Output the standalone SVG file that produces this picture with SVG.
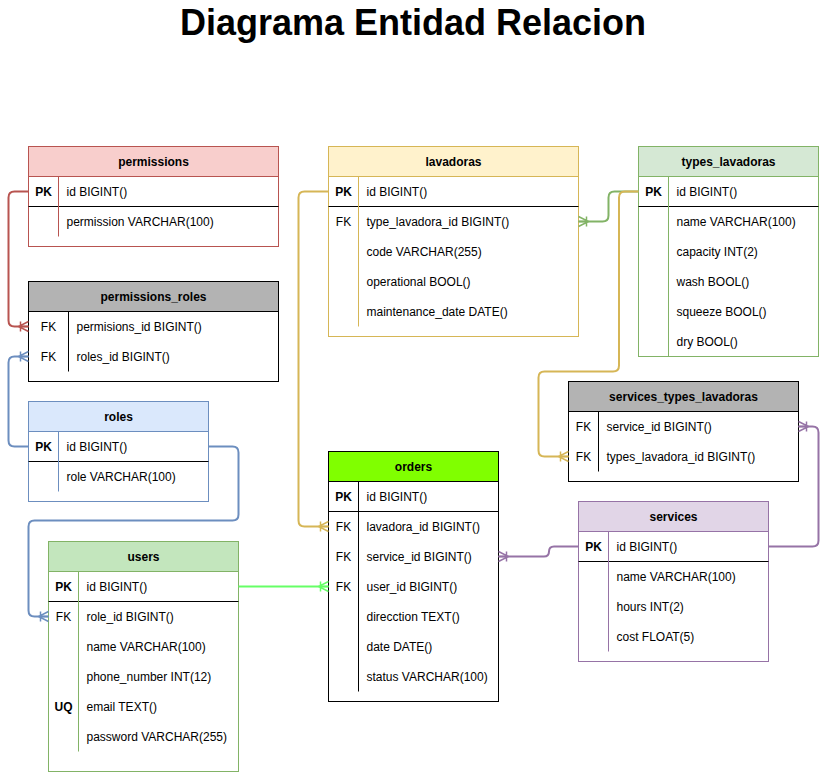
<svg xmlns="http://www.w3.org/2000/svg" width="827" height="772" viewBox="0 0 827 772">
<style>
text{font-family:"Liberation Sans",Arial,Helvetica,sans-serif;font-size:12px;fill:#000}
.title{font-size:36px;font-weight:bold;text-anchor:middle}
.hdr{font-weight:bold;text-anchor:middle}
.key{text-anchor:middle}
.kb{font-weight:bold}
.sep{stroke:#000;stroke-width:1}
.conn{fill:none;stroke-width:2}
.body{fill:#fff}
</style>
<defs>
<marker id="mRed" viewBox="-12 -7 14 14" markerWidth="14" markerHeight="14" refX="0" refY="0" orient="auto" markerUnits="userSpaceOnUse"><path d="M0,-5 L-10,0 L0,5 M0,0 H-10 M-8,-5 V5" fill="none" stroke="#b85450" stroke-width="1.5"/></marker>
<marker id="mBlue" viewBox="-12 -7 14 14" markerWidth="14" markerHeight="14" refX="0" refY="0" orient="auto" markerUnits="userSpaceOnUse"><path d="M0,-5 L-10,0 L0,5 M0,0 H-10 M-8,-5 V5" fill="none" stroke="#6c8ebf" stroke-width="1.5"/></marker>
<marker id="mLime" viewBox="-12 -7 14 14" markerWidth="14" markerHeight="14" refX="0" refY="0" orient="auto" markerUnits="userSpaceOnUse"><path d="M0,-5 L-10,0 L0,5 M0,0 H-10 M-8,-5 V5" fill="none" stroke="#66ff66" stroke-width="1.5"/></marker>
<marker id="mYel" viewBox="-12 -7 14 14" markerWidth="14" markerHeight="14" refX="0" refY="0" orient="auto" markerUnits="userSpaceOnUse"><path d="M0,-5 L-10,0 L0,5 M0,0 H-10 M-8,-5 V5" fill="none" stroke="#d6b656" stroke-width="1.5"/></marker>
<marker id="mGreen" viewBox="-12 -7 14 14" markerWidth="14" markerHeight="14" refX="0" refY="0" orient="auto" markerUnits="userSpaceOnUse"><path d="M0,-5 L-10,0 L0,5 M0,0 H-10 M-8,-5 V5" fill="none" stroke="#82b366" stroke-width="1.5"/></marker>
<marker id="mPurp" viewBox="-12 -7 14 14" markerWidth="14" markerHeight="14" refX="0" refY="0" orient="auto" markerUnits="userSpaceOnUse"><path d="M0,-5 L-10,0 L0,5 M0,0 H-10 M-8,-5 V5" fill="none" stroke="#9673a6" stroke-width="1.5"/></marker>
</defs>
<rect x="0" y="0" width="827" height="772" fill="#fff"/>
<text class="title" x="413" y="35">Diagrama Entidad Relacion</text>

<g id="permissions">
<rect class="body" x="28.5" y="146.5" width="250" height="100" stroke="#b85450"/>
<rect x="28.5" y="146.5" width="250" height="30" fill="#f8cecc" stroke="#b85450"/>
<line class="sep" x1="28.5" y1="206.5" x2="278.5" y2="206.5"/>
<line x1="58.5" y1="176.5" x2="58.5" y2="236.5" stroke="#b85450"/>
<text class="hdr" x="153.5" y="166">permissions</text>
<text class="key kb" x="43.5" y="196">PK</text><text x="66.5" y="196">id BIGINT()</text>
<text x="66.5" y="226">permission VARCHAR(100)</text>
</g>

<g id="permissions_roles">
<rect class="body" x="28.5" y="281.5" width="250" height="100" stroke="#000"/>
<rect x="28.5" y="281.5" width="250" height="30" fill="#b3b3b3" stroke="#000"/>
<line x1="68.5" y1="311.5" x2="68.5" y2="371.5" stroke="#000"/>
<text class="hdr" x="153.5" y="301">permissions_roles</text>
<text class="key" x="48.5" y="331">FK</text><text x="76.5" y="331">permisions_id BIGINT()</text>
<text class="key" x="48.5" y="361">FK</text><text x="76.5" y="361">roles_id BIGINT()</text>
</g>

<g id="roles">
<rect class="body" x="28.5" y="401.5" width="180" height="100" stroke="#6c8ebf"/>
<rect x="28.5" y="401.5" width="180" height="30" fill="#dae8fc" stroke="#6c8ebf"/>
<line class="sep" x1="28.5" y1="461.5" x2="208.5" y2="461.5"/>
<line x1="58.5" y1="431.5" x2="58.5" y2="491.5" stroke="#6c8ebf"/>
<text class="hdr" x="118.5" y="421">roles</text>
<text class="key kb" x="43.5" y="451">PK</text><text x="66.5" y="451">id BIGINT()</text>
<text x="66.5" y="481">role VARCHAR(100)</text>
</g>

<g id="users">
<rect class="body" x="48.5" y="541.5" width="190" height="230" stroke="#82b366"/>
<rect x="48.5" y="541.5" width="190" height="30" fill="#c3e6bd" stroke="#82b366"/>
<line class="sep" x1="48.5" y1="601.5" x2="238.5" y2="601.5"/>
<line x1="78.5" y1="571.5" x2="78.5" y2="751.5" stroke="#82b366"/>
<text class="hdr" x="143.5" y="561">users</text>
<text class="key kb" x="63.5" y="591">PK</text><text x="86.5" y="591">id BIGINT()</text>
<text class="key" x="63.5" y="621">FK</text><text x="86.5" y="621">role_id BIGINT()</text>
<text x="86.5" y="651">name VARCHAR(100)</text>
<text x="86.5" y="681">phone_number INT(12)</text>
<text class="key kb" x="63.5" y="711">UQ</text><text x="86.5" y="711">email TEXT()</text>
<text x="86.5" y="741">password VARCHAR(255)</text>
</g>

<g id="lavadoras">
<rect class="body" x="328.5" y="146.5" width="250" height="190" stroke="#d6b656"/>
<rect x="328.5" y="146.5" width="250" height="30" fill="#fff2cc" stroke="#d6b656"/>
<line class="sep" x1="328.5" y1="206.5" x2="578.5" y2="206.5"/>
<line x1="358.5" y1="176.5" x2="358.5" y2="326.5" stroke="#d6b656"/>
<text class="hdr" x="453.5" y="166">lavadoras</text>
<text class="key kb" x="343.5" y="196">PK</text><text x="366.5" y="196">id BIGINT()</text>
<text class="key" x="343.5" y="226">FK</text><text x="366.5" y="226">type_lavadora_id BIGINT()</text>
<text x="366.5" y="256">code VARCHAR(255)</text>
<text x="366.5" y="286">operational BOOL()</text>
<text x="366.5" y="316">maintenance_date DATE()</text>
</g>

<g id="types_lavadoras">
<rect class="body" x="638.5" y="146.5" width="180" height="210" stroke="#82b366"/>
<rect x="638.5" y="146.5" width="180" height="30" fill="#d5e8d4" stroke="#82b366"/>
<line class="sep" x1="638.5" y1="206.5" x2="818.5" y2="206.5"/>
<line x1="668.5" y1="176.5" x2="668.5" y2="356.5" stroke="#82b366"/>
<text class="hdr" x="728.5" y="166">types_lavadoras</text>
<text class="key kb" x="653.5" y="196">PK</text><text x="676.5" y="196">id BIGINT()</text>
<text x="676.5" y="226">name VARCHAR(100)</text>
<text x="676.5" y="256">capacity INT(2)</text>
<text x="676.5" y="286">wash BOOL()</text>
<text x="676.5" y="316">squeeze BOOL()</text>
<text x="676.5" y="346">dry BOOL()</text>
</g>

<g id="services_types_lavadoras">
<rect class="body" x="568.5" y="381.5" width="230" height="100" stroke="#000"/>
<rect x="568.5" y="381.5" width="230" height="30" fill="#b3b3b3" stroke="#000"/>
<line x1="598.5" y1="411.5" x2="598.5" y2="471.5" stroke="#000"/>
<text class="hdr" x="683.5" y="401">services_types_lavadoras</text>
<text class="key" x="583.5" y="431">FK</text><text x="606.5" y="431">service_id BIGINT()</text>
<text class="key" x="583.5" y="461">FK</text><text x="606.5" y="461">types_lavadora_id BIGINT()</text>
</g>

<g id="orders">
<rect class="body" x="328.5" y="451.5" width="170" height="250" stroke="#000"/>
<rect x="328.5" y="451.5" width="170" height="30" fill="#80ff00" stroke="#000"/>
<line class="sep" x1="328.5" y1="511.5" x2="498.5" y2="511.5"/>
<line x1="358.5" y1="481.5" x2="358.5" y2="691.5" stroke="#000"/>
<text class="hdr" x="413.5" y="471">orders</text>
<text class="key kb" x="343.5" y="501">PK</text><text x="366.5" y="501">id BIGINT()</text>
<text class="key" x="343.5" y="531">FK</text><text x="366.5" y="531">lavadora_id BIGINT()</text>
<text class="key" x="343.5" y="561">FK</text><text x="366.5" y="561">service_id BIGINT()</text>
<text class="key" x="343.5" y="591">FK</text><text x="366.5" y="591">user_id BIGINT()</text>
<text x="366.5" y="621">direcction TEXT()</text>
<text x="366.5" y="651">date DATE()</text>
<text x="366.5" y="681">status VARCHAR(100)</text>
</g>

<g id="services">
<rect class="body" x="578.5" y="501.5" width="190" height="160" stroke="#9673a6"/>
<rect x="578.5" y="501.5" width="190" height="30" fill="#e1d5e7" stroke="#9673a6"/>
<line class="sep" x1="578.5" y1="561.5" x2="768.5" y2="561.5"/>
<line x1="608.5" y1="531.5" x2="608.5" y2="651.5" stroke="#9673a6"/>
<text class="hdr" x="673.5" y="521">services</text>
<text class="key kb" x="593.5" y="551">PK</text><text x="616.5" y="551">id BIGINT()</text>
<text x="616.5" y="581">name VARCHAR(100)</text>
<text x="616.5" y="611">hours INT(2)</text>
<text x="616.5" y="641">cost FLOAT(5)</text>
</g>

<g id="connectors">
<path class="conn" stroke="#b85450" marker-end="url(#mRed)" d="M28.5,191.5 H14.5 Q8.5,191.5 8.5,197.5 V320.5 Q8.5,326.5 14.5,326.5 H28.5"/>
<path class="conn" stroke="#6c8ebf" marker-end="url(#mBlue)" d="M28.5,446.5 H14.5 Q8.5,446.5 8.5,440.5 V362.5 Q8.5,356.5 14.5,356.5 H28.5"/>
<path class="conn" stroke="#6c8ebf" marker-end="url(#mBlue)" d="M208.5,446.5 H232.5 Q238.5,446.5 238.5,452.5 V514.5 Q238.5,520.5 232.5,520.5 H34.5 Q28.5,520.5 28.5,526.5 V610.5 Q28.5,616.5 34.5,616.5 H48.5"/>
<path class="conn" stroke="#66ff66" marker-end="url(#mLime)" d="M238.5,586.5 H328.5"/>
<path class="conn" stroke="#d6b656" marker-end="url(#mYel)" d="M328.5,191.5 H304.5 Q298.5,191.5 298.5,197.5 V520.5 Q298.5,526.5 304.5,526.5 H328.5"/>
<path class="conn" stroke="#82b366" marker-end="url(#mGreen)" d="M638.5,191.5 H614.5 Q608.5,191.5 608.5,197.5 V215.5 Q608.5,221.5 602.5,221.5 H578.5"/>
<path class="conn" stroke="#d6b656" marker-end="url(#mYel)" d="M638.5,191.5 H625 Q619,191.5 619,197.5 V365.5 Q619,371.5 613,371.5 H544.5 Q538.5,371.5 538.5,377.5 V450.5 Q538.5,456.5 544.5,456.5 H568.5"/>
<path class="conn" stroke="#9673a6" marker-end="url(#mPurp)" d="M578.5,546.5 H554 Q549,546.5 549,551.5 Q549,556.5 544,556.5 H498.5"/>
<path class="conn" stroke="#9673a6" marker-end="url(#mPurp)" d="M768.5,546.5 H812.5 Q818.5,546.5 818.5,540.5 V432.5 Q818.5,426.5 812.5,426.5 H798.5"/>
</g>
</svg>
